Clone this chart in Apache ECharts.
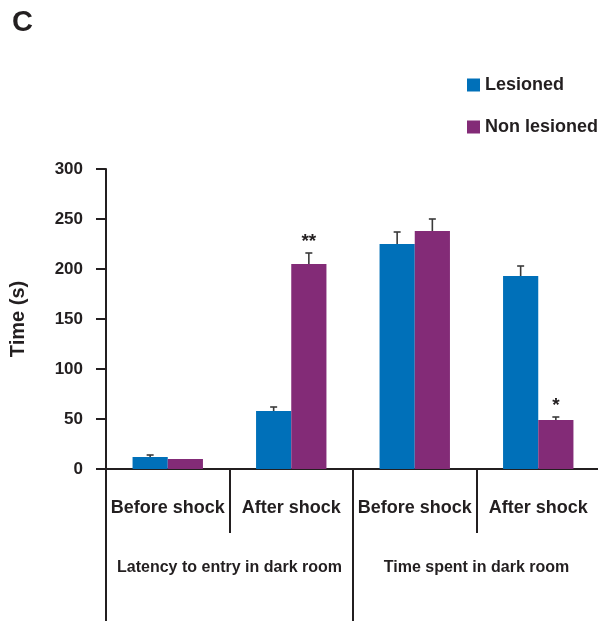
<!DOCTYPE html>
<html>
<head>
<meta charset="utf-8">
<script src="https://cdn.jsdelivr.net/npm/echarts@6/dist/echarts.min.js"></script>
<style>html,body{margin:0;padding:0;background:#fff;overflow:hidden}#c{width:600px;height:621px}</style>
</head>
<body>
<div id="c"></div>
<script>
var categories = ['Before shock', 'After shock', 'Before shock', 'After shock'];
var groups = ['Latency to entry in dark room', 'Time spent in dark room'];
var lesioned = [12, 58, 225, 193];
var lesionedErr = [2, 4, 12, 10];
var nonLesioned = [10, 205, 238, 49];
var nonLesionedErr = [0, 11, 12, 3];
var nonLesionedSig = ['', '**', '', '*'];
var yTicks = [0, 50, 100, 150, 200, 250, 300];

var FONT = 'Liberation Sans, Arial, Helvetica, sans-serif';
var INK = '#231f20';
var BLUE = '#0070b9';
var PURPLE = '#832b77';
var BARW = 0.285;

function errSeries(vals, errs, sig, side) {
  return {
    type: 'custom',
    xAxisIndex: 0,
    yAxisIndex: 0,
    z: 5,
    silent: true,
    data: vals.map(function (v, i) { return [i, v, errs[i]]; }),
    renderItem: function (params, api) {
      var idx = api.value(0), v = api.value(1), e = api.value(2);
      var band = api.size([1, 0])[0];
      var base = api.coord([idx, v]);
      var x = base[0] + side * band * BARW / 2;
      var top = api.coord([idx, v + e])[1];
      var children = [];
      if (e > 0) {
        children.push({ type: 'line', shape: { x1: x, y1: base[1], x2: x, y2: top }, style: { stroke: '#3a3a3a', lineWidth: 1.6 } });
        children.push({ type: 'line', shape: { x1: x - 3.5, y1: top, x2: x + 3.5, y2: top }, style: { stroke: '#3a3a3a', lineWidth: 1.6 } });
      }
      var s = sig ? sig[params.dataIndex] : '';
      if (s) {
        children.push({ type: 'text', style: { text: s, x: x, y: top - 2, textAlign: 'center', textVerticalAlign: 'bottom', font: 'bold 19px ' + FONT, fill: INK } });
      }
      return { type: 'group', children: children };
    }
  };
}

var chart = echarts.init(document.getElementById('c'));
chart.setOption({
  animation: false,
  grid: { left: 106, right: 0, top: 169, bottom: 152, containLabel: false },
  legend: {
    orient: 'vertical', left: 462, top: 71, itemWidth: 13, itemHeight: 13, itemGap: 24,
    icon: 'rect',
    textStyle: { fontFamily: FONT, fontWeight: 'bold', fontSize: 18, color: INK },
    data: ['Lesioned', 'Non lesioned']
  },
  graphic: [
    { type: 'text', left: 12, top: 8, style: { text: 'C', font: 'bold 29px ' + FONT, fill: INK } }
  ],
  xAxis: [
    {
      type: 'category', data: categories, position: 'bottom',
      axisLine: { lineStyle: { color: INK, width: 2 } },
      axisTick: { show: true, length: 64, lineStyle: { color: INK, width: 2 } },
      axisLabel: { margin: 30, fontFamily: FONT, fontWeight: 'bold', fontSize: 18, color: INK, interval: 0 }
    },
    {
      type: 'category', data: groups, position: 'bottom',
      axisLine: { show: false },
      axisTick: { show: true, length: 152, lineStyle: { color: INK, width: 2 } },
      axisLabel: { margin: 91, fontFamily: FONT, fontWeight: 'bold', fontSize: 16, color: INK, interval: 0 }
    }
  ],
  yAxis: {
    type: 'value', min: 0, max: 300, interval: 50,
    name: 'Time (s)', nameLocation: 'middle', nameGap: 78, nameRotate: 90,
    nameTextStyle: { fontFamily: FONT, fontWeight: 'bold', fontSize: 20, color: INK },
    axisLine: { show: true, lineStyle: { color: INK, width: 2 } },
    axisTick: { show: true, length: 10, lineStyle: { color: INK, width: 2 } },
    axisLabel: { margin: 23, fontFamily: FONT, fontWeight: 'bold', fontSize: 17, color: INK,
      formatter: function (v) { return yTicks.indexOf(v) >= 0 ? String(v) : ''; } },
    splitLine: { show: false }
  },
  series: [
    { name: 'Lesioned', type: 'bar', data: lesioned, barWidth: (BARW * 100) + '%', barGap: '0%', itemStyle: { color: BLUE } },
    { name: 'Non lesioned', type: 'bar', data: nonLesioned, barWidth: (BARW * 100) + '%', barGap: '0%', itemStyle: { color: PURPLE } },
    errSeries(lesioned, lesionedErr, null, -1),
    errSeries(nonLesioned, nonLesionedErr, nonLesionedSig, 1)
  ]
});
</script>
</body>
</html>
